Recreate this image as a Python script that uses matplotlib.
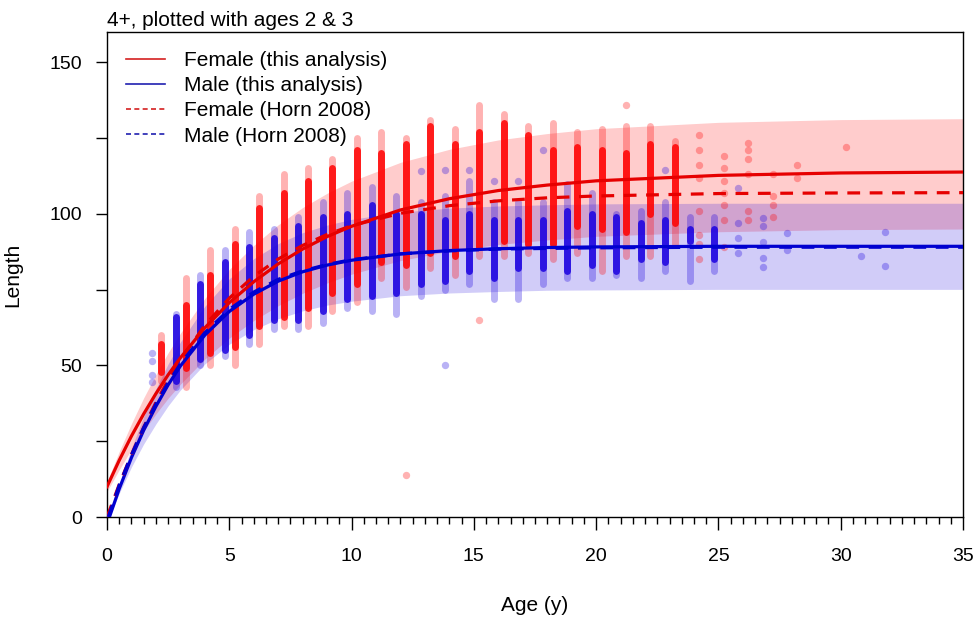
import matplotlib
matplotlib.use("Agg")
import matplotlib.pyplot as plt
from matplotlib.lines import Line2D
import numpy as np

plt.rcParams['font.family'] = ['Liberation Sans', 'DejaVu Sans']

# fitted curves
f_age = [0, 0.5, 1, 1.5, 2, 2.5, 3, 4, 5, 6, 7, 8, 9, 10, 12, 14, 16, 18, 20, 25, 30, 35]
f_len = [10.0, 18.7, 26.7, 34.0, 40.7, 46.9, 52.5, 62.4, 70.7, 77.6, 83.5, 88.4, 92.5, 95.9,
         101.3, 105.0, 107.7, 109.5, 110.9, 112.7, 113.5, 113.8]
f_hi = [11.6, 21.6, 30.8, 39.3, 47.0, 54.2, 60.6, 72.1, 81.7, 89.6, 96.4, 102.1, 106.8, 110.8,
        117.0, 121.3, 124.4, 126.5, 128.1, 130.2, 131.1, 131.4]
f_lo = [8.4, 15.6, 22.3, 28.4, 34.0, 39.2, 43.8, 52.1, 59.0, 64.8, 69.7, 73.8, 77.2, 80.1,
        84.6, 87.7, 89.9, 91.4, 92.6, 94.1, 94.8, 95.0]

m_age = [0.1, 0.5, 1, 1.5, 2, 2.5, 3, 4, 5, 6, 7, 8, 9, 10, 12, 14, 16, 18, 20, 25, 30, 35]
m_len = [0, 9.3, 19.6, 28.6, 36.5, 43.6, 49.8, 60.0, 67.8, 73.5, 77.8, 80.9, 83.1, 84.7,
         86.8, 87.9, 88.5, 88.9, 89.1, 89.3, 89.3, 89.3]
m_hi = [0, 10.8, 22.7, 33.1, 42.3, 50.5, 57.7, 69.5, 78.6, 85.2, 90.2, 93.8, 96.3, 98.2,
        100.6, 101.9, 102.6, 103.0, 103.3, 103.5, 103.5, 103.5]
m_lo = [0, 7.8, 16.5, 24.1, 30.7, 36.7, 41.9, 50.5, 57.0, 61.8, 65.4, 68.0, 69.9, 71.2,
        73.0, 73.9, 74.4, 74.8, 74.9, 75.1, 75.1, 75.1]

# Horn 2008 curves
fh_age = [0, 0.5, 1, 1.5, 2, 2.5, 3, 4, 5, 6, 7, 8, 9, 10, 12, 14, 16, 18, 20, 25, 30, 35]
fh_len = [0, 10.7, 20.6, 29.6, 37.8, 45.2, 51.9, 63.2, 72.2, 79.4, 85.1, 89.6, 93.2, 96.1,
          100.2, 102.7, 104.3, 105.3, 105.9, 106.7, 106.9, 107.0]
mh_age = [0.05, 0.5, 1, 1.5, 2, 2.5, 3, 4, 5, 6, 7, 8, 9, 10, 12, 14, 16, 18, 20, 25, 30, 35]
mh_len = [0, 10.5, 20.5, 29.5, 37.3, 44.3, 50.5, 60.8, 68.5, 74.2, 78.4, 81.2, 83.3, 84.9,
          86.8, 87.8, 88.4, 88.6, 88.8, 89.0, 89.0, 89.0]

# observed lengths by age: sparse outer range and dense core range
fa = [2, 3, 4, 5, 6, 7, 8, 9, 10, 11, 12, 13, 14, 15, 16, 17, 18, 19, 20, 21, 22, 23]
fa_out_lo = [45, 43, 50, 50, 57, 63, 63, 68, 71, 79, 76, 82, 80, 86, 86, 87, 85, 87, 81, 86, 86, 90]
fa_out_hi = [60, 79, 88, 95, 106, 113, 115, 118, 125, 127, 125, 131, 128, 136, 133, 129, 130, 127, 128, 129, 129, 124]
fa_core_lo = [48, 49, 54, 56, 63, 66, 69, 74, 77, 84, 83, 87, 86, 89, 91, 90, 90, 96, 95, 94, 100, 97]
fa_core_hi = [57, 70, 80, 90, 102, 107, 111, 115, 121, 120, 123, 129, 123, 127, 130, 126, 121, 122, 121, 120, 123, 122]
f_pt_age = [12, 15, 21, 24, 24, 24, 24, 24, 24, 24, 24, 25, 25, 25, 25, 25, 25, 25,
            26, 26, 26, 26, 26, 26, 27, 27, 27, 27, 28, 28, 30]
f_pt_len = [14, 65, 136, 126, 121, 116, 112, 101, 93, 90, 85, 119, 115, 111, 107, 103, 98, 89,
            123.5, 121, 118, 113, 101, 98, 113, 106, 103, 99, 116, 112, 122]

ma = [3, 4, 5, 6, 7, 8, 9, 10, 11, 12, 13, 14, 15, 16, 17, 18, 19, 20, 21, 22, 23, 24, 25]
ma_out_lo = [43, 50, 53, 57, 62, 62, 64, 69, 68, 67, 73, 75, 77, 72, 72, 77, 79, 79, 80, 79, 81, 78, 81]
ma_out_hi = [67, 80, 88, 94, 95, 99, 104, 107, 109, 106, 104, 106, 111, 104, 104, 104, 110, 107, 100, 101, 104, 99, 99]
ma_core_lo = [45, 52, 55, 60, 65, 65, 68, 72, 73, 74, 77, 78, 81, 79, 82, 82, 81, 83, 81, 85, 84, 91, 85]
ma_core_hi = [66, 77, 84, 89, 92, 96, 99, 100, 103, 100, 100, 98, 100, 98, 98, 98, 101, 100, 99, 97, 98, 95, 95]
m_pt_age = [2, 2, 2, 2, 13, 14, 14, 15, 16, 17, 18, 23, 26, 26, 26, 26, 27, 27, 27, 27, 27, 28, 28, 31, 32, 32]
m_pt_len = [54, 51.3, 47, 44.7, 114, 114.6, 50, 114.6, 111, 111, 121, 114.6, 108.7, 97, 92, 87,
            98.8, 96, 90.8, 85.6, 82.6, 93.8, 88.2, 86, 93.9, 82.9]

RED = '#ff0000'
BLUE = '#1a00e0'
F_OFF = 0.22
M_OFF = -0.18

fig = plt.figure(figsize=(9.78, 6.19), dpi=100)
ax = fig.add_axes([107/978, 1-517/619, 856/978, 485/619])

# prediction bands
ax.fill_between(f_age, f_lo, f_hi, color=RED, alpha=0.2, lw=0, zorder=1)
ax.fill_between(m_age, m_lo, m_hi, color=BLUE, alpha=0.2, lw=0, zorder=1)

# observations
def columns(ages, off, lo, hi, clo, chi, col):
    x = np.array(ages) + off
    v = ax.vlines(x, lo, hi, colors=col, alpha=0.3, lw=5, zorder=2)
    v.set_capstyle('round')
    v = ax.vlines(x, clo, chi, colors=col, alpha=0.85, lw=5, zorder=2)
    v.set_capstyle('round')

columns(fa, F_OFF, fa_out_lo, fa_out_hi, fa_core_lo, fa_core_hi, RED)
columns(ma, M_OFF, ma_out_lo, ma_out_hi, ma_core_lo, ma_core_hi, BLUE)
ax.scatter(np.array(f_pt_age) + F_OFF, f_pt_len, s=28, color=RED, alpha=0.3, lw=0, zorder=2)
ax.scatter(np.array(m_pt_age) + M_OFF, m_pt_len, s=28, color=BLUE, alpha=0.3, lw=0, zorder=2)

# curves
ax.plot(f_age, f_len, color='#e60000', lw=2.3, zorder=4)
ax.plot(m_age, m_len, color='#0000d0', lw=2.3, zorder=4)
ax.plot(fh_age, fh_len, color='#e60000', lw=2.3, ls=(0, (4, 3)), zorder=4)
ax.plot(mh_age, mh_len, color='#0000d0', lw=2.3, ls=(0, (4, 3)), zorder=4)

ax.set_xlim(0, 35)
ax.set_ylim(0, 160)
ax.set_xticks(range(0, 36, 5))
ax.set_xticks(np.arange(0, 35.01, 0.5), minor=True)
ax.set_yticks(range(0, 151, 25))
ax.set_yticklabels(['0', '', '50', '', '100', '', '150'])
ax.tick_params(axis='x', which='major', length=9, width=1, pad=13, labelsize=14)
ax.tick_params(axis='x', which='minor', length=5, width=1)
ax.tick_params(axis='y', length=8, width=1, pad=10, labelsize=14)
for s in ax.spines.values():
    s.set_linewidth(1)

ax.set_xlabel('Age (y)', fontsize=15)
ax.xaxis.set_label_coords(0.5, -0.163)
ax.set_ylabel('Length', fontsize=15)
ax.yaxis.set_label_coords(-0.099, 0.5)
ax.set_title('4+, plotted with ages 2 & 3', loc='left', fontsize=15, pad=4)

handles = [Line2D([], [], color='#d42020', lw=1.2),
           Line2D([], [], color='#2020b0', lw=1.2),
           Line2D([], [], color='#d42020', lw=1.2, ls=(0, (3, 2))),
           Line2D([], [], color='#2020b0', lw=1.2, ls=(0, (3, 2)))]
labels = ['Female (this analysis)', 'Male (this analysis)',
          'Female (Horn 2008)', 'Male (Horn 2008)']
ax.legend(handles, labels, loc='upper left', bbox_to_anchor=(0.022, 0.961),
          frameon=False, fontsize=15, borderpad=0, borderaxespad=0,
          handlelength=1.9, handletextpad=0.9, labelspacing=0.3)

fig.savefig('out.png', dpi=100)
